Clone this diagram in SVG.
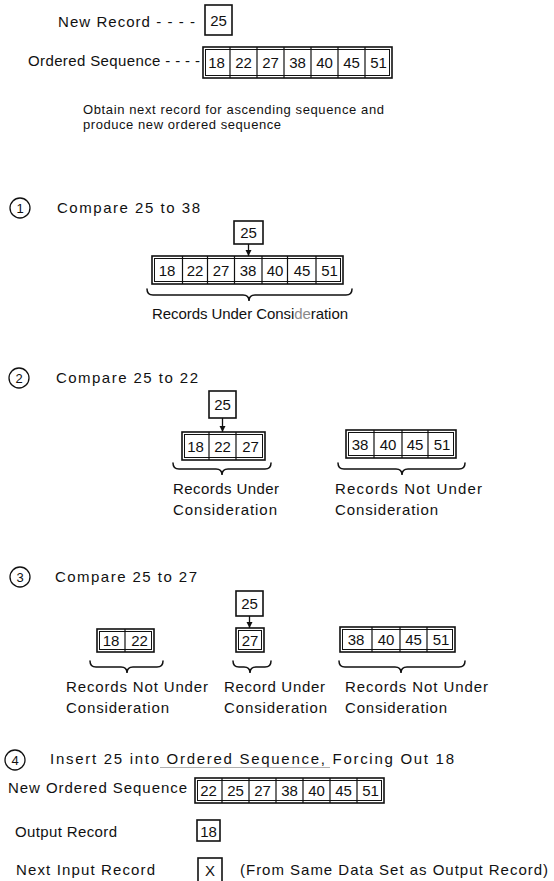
<svg xmlns="http://www.w3.org/2000/svg" width="554" height="881" viewBox="0 0 554 881">
  <defs>
    <style>
      .t { font-family: "Liberation Sans", Arial, sans-serif; font-size: 15px; fill: #111; }
      .s { font-size: 13px; }
      .n { font-family: "Liberation Sans", Arial, sans-serif; font-size: 15px; fill: #111; text-anchor: middle; }
      .c { font-family: "Liberation Sans", Arial, sans-serif; font-size: 13px; fill: #111; text-anchor: middle; }
      .box { fill: #fff; stroke: #111; stroke-width: 1.6; }
      .inner { fill: none; stroke: #111; stroke-width: 1; }
      .div { stroke: #111; stroke-width: 1.2; }
      .brace { fill: none; stroke: #111; stroke-width: 1.5; stroke-linecap: round; }
      .ring { fill: none; stroke: #111; stroke-width: 1.3; }
      .arrow { stroke: #111; stroke-width: 1.3; fill: none; marker-end: url(#ah); }
    </style>
    <marker id="ah" viewBox="0 0 10 10" refX="10" refY="5" markerWidth="6" markerHeight="7" markerUnits="userSpaceOnUse" orient="auto">
      <path d="M0,0 L10,5 L0,10 z" fill="#111"/>
    </marker>
  </defs>
  <rect width="554" height="881" fill="#fff"/>

  <!-- Initial state -->
  <g id="new-record">
    <text class="t" x="58" y="27" textLength="137">New Record - - - -</text>
    <rect class="box" x="205" y="5" width="27" height="30"/>
    <text class="n" x="218.5" y="26">25</text>
  </g>
  <g id="ordered-sequence">
    <text class="t" x="28" y="66" textLength="172">Ordered Sequence - - - -</text>
    <rect class="box" x="203" y="47" width="189" height="31"/>
    <rect class="inner" x="205.5" y="49.5" width="184" height="26"/>
    <path class="div" d="M230,47V78M257,47V78M284,47V78M311,47V78M338,47V78M365,47V78"/>
    <text class="n" y="68"><tspan x="216.5">18</tspan><tspan x="243.5">22</tspan><tspan x="270.5">27</tspan><tspan x="297.5">38</tspan><tspan x="324.5">40</tspan><tspan x="351.5">45</tspan><tspan x="378.5">51</tspan></text>
  </g>
  <g id="intro">
    <text class="t s" x="83" y="114" textLength="301">Obtain next record for ascending sequence and</text>
    <text class="t s" x="83" y="129" textLength="198">produce new ordered sequence</text>
  </g>

  <!-- Step 1 -->
  <g id="step1">
    <circle class="ring" cx="20" cy="208" r="10"/>
    <text class="c" x="20" y="212.5">1</text>
    <text class="t" x="57" y="213" textLength="143">Compare 25 to 38</text>
    <rect class="box" x="234" y="221" width="29" height="23"/>
    <text class="n" x="248.5" y="238">25</text>
    <rect class="box" x="152" y="256" width="191" height="28"/>
    <rect class="inner" x="154.5" y="258.5" width="186" height="23"/>
    <path class="div" d="M182.5,256V284M207.5,256V284M234.5,256V284M262,256V284M287.5,256V284M316,256V284"/>
    <text class="n" y="275.5"><tspan x="167">18</tspan><tspan x="195">22</tspan><tspan x="221">27</tspan><tspan x="248">38</tspan><tspan x="275">40</tspan><tspan x="302">45</tspan><tspan x="329.5">51</tspan></text>
    <path class="brace" d="M147,289Q147,295 153,295L243,295Q249,295 249,301Q249,295 255,295L346,295Q352,295 352,289"/>
    <text class="t" x="152" y="319" textLength="196">Records Under Consi<tspan fill="#8a8a8a">de</tspan>ration</text>
  </g>

  <!-- Step 2 -->
  <g id="step2">
    <circle class="ring" cx="19" cy="378" r="10"/>
    <text class="c" x="19" y="382.5">2</text>
    <text class="t" x="56" y="383" textLength="142">Compare 25 to 22</text>
    <rect class="box" x="209" y="391" width="27" height="27"/>
    <text class="n" x="222.5" y="410">25</text>
    <rect class="box" x="182" y="432" width="83" height="28"/>
    <rect class="inner" x="184.5" y="434.5" width="78" height="23"/>
    <path class="div" d="M209,432V460M236,432V460"/>
    <text class="n" y="451.5"><tspan x="195.5">18</tspan><tspan x="222.5">22</tspan><tspan x="250.5">27</tspan></text>
    <rect class="box" x="346" y="430" width="110" height="28"/>
    <rect class="inner" x="348.5" y="432.5" width="105" height="23"/>
    <path class="div" d="M374,430V458M402,430V458M428,430V458"/>
    <text class="n" y="449.5"><tspan x="360">38</tspan><tspan x="388">40</tspan><tspan x="415">45</tspan><tspan x="442">51</tspan></text>
    <path class="brace" d="M173,463Q173,469 179,469L216,469Q222,469 222,475Q222,469 228,469L265,469Q271,469 271,463"/>
    <path class="brace" d="M338,463Q338,469 344,469L396,469Q402,469 402,475Q402,469 408,469L459,469Q465,469 465,463"/>
    <text class="t" x="173" y="494" textLength="106">Records Under</text>
    <text class="t" x="173" y="515" textLength="104">Consideration</text>
    <text class="t" x="335" y="494" textLength="147">Records Not Under</text>
    <text class="t" x="335" y="515" textLength="103">Consideration</text>
  </g>

  <!-- Step 3 -->
  <g id="step3">
    <circle class="ring" cx="20" cy="577" r="10"/>
    <text class="c" x="20" y="581.5">3</text>
    <text class="t" x="55" y="582" textLength="142">Compare 25 to 27</text>
    <rect class="box" x="236" y="591" width="27" height="25"/>
    <text class="n" x="249.5" y="608.5">25</text>
    <rect class="box" x="236" y="628" width="28" height="24"/>
    <rect class="inner" x="238.5" y="630.5" width="23" height="19"/>
    <text class="n" x="250" y="645.5">27</text>
    <rect class="box" x="97" y="629" width="57" height="23"/>
    <rect class="inner" x="99.5" y="631.5" width="52" height="18"/>
    <path class="div" d="M125,629V652"/>
    <text class="n" y="645.5"><tspan x="111">18</tspan><tspan x="139.5">22</tspan></text>
    <rect class="box" x="340" y="627" width="115" height="25"/>
    <rect class="inner" x="342.5" y="629.5" width="110" height="20"/>
    <path class="div" d="M372,627V652M400,627V652M427,627V652"/>
    <text class="n" y="644.5"><tspan x="356">38</tspan><tspan x="386">40</tspan><tspan x="413.5">45</tspan><tspan x="441">51</tspan></text>
    <path class="brace" d="M90,661Q90,667 96,667L121,667Q127,667 127,673Q127,667 133,667L157,667Q163,667 163,661"/>
    <path class="brace" d="M233,661Q233,667 239,667L244,667Q250,667 250,673Q250,667 256,667L265,667Q271,667 271,661"/>
    <path class="brace" d="M339,661Q339,667 345,667L395,667Q401,667 401,673Q401,667 407,667L459,667Q465,667 465,661"/>
    <text class="t" x="66" y="692" textLength="142">Records Not Under</text>
    <text class="t" x="66" y="713" textLength="103">Consideration</text>
    <text class="t" x="224" y="692" textLength="101">Record Under</text>
    <text class="t" x="224" y="713" textLength="103">Consideration</text>
    <text class="t" x="345" y="692" textLength="143">Records Not Under</text>
    <text class="t" x="345" y="713" textLength="102">Consideration</text>
  </g>

  <!-- Step 4 -->
  <g id="step4">
    <circle class="ring" cx="15" cy="760" r="10"/>
    <text class="c" x="15" y="764.5">4</text>
    <text class="t" x="50" y="764" textLength="404">Insert 25 into Ordered Sequence, Forcing Out 18</text>
    <path d="M160,767.5H330" stroke="#9a9a9a" stroke-width="0.8"/>
  </g>
  <g id="new-ordered-sequence">
    <text class="t" x="8" y="793" textLength="179">New Ordered Sequence</text>
    <rect class="box" x="195" y="778" width="189" height="25"/>
    <rect class="inner" x="197.5" y="780.5" width="184" height="20"/>
    <path class="div" d="M222,778V803M249,778V803M276,778V803M303,778V803M330,778V803M357,778V803"/>
    <text class="n" y="796"><tspan x="208.5">22</tspan><tspan x="235.5">25</tspan><tspan x="262.5">27</tspan><tspan x="289.5">38</tspan><tspan x="316.5">40</tspan><tspan x="343.5">45</tspan><tspan x="370.5">51</tspan></text>
  </g>
  <g id="output-record">
    <text class="t" x="15" y="837" textLength="102">Output Record</text>
    <rect class="box" x="197" y="820" width="23" height="21"/>
    <text class="n" x="208.5" y="836.5">18</text>
  </g>
  <g id="next-input-record">
    <text class="t" x="16" y="875" textLength="139">Next Input Record</text>
    <rect class="box" x="198" y="858" width="24" height="28"/>
    <text class="n" x="210" y="876">X</text>
    <text class="t" x="240" y="875" textLength="308">(From Same Data Set as Output Record)</text>
  </g>

  <!-- Connectors: comparison arrows from the new record into the sequence -->
  <g id="connectors">
    <path class="arrow" d="M248.5,244V256"/>
    <path class="arrow" d="M222.5,418V432"/>
    <path class="arrow" d="M249.5,616V628"/>
  </g>
</svg>
